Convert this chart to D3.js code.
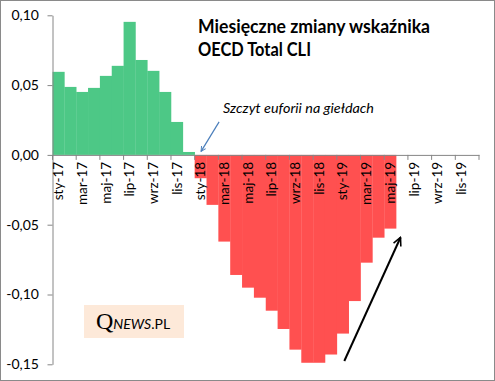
<!DOCTYPE html>
<html><head><meta charset="utf-8">
<script src="https://cdn.jsdelivr.net/npm/d3@7"></script>
<style>html,body{margin:0;padding:0;background:#fff;}svg{display:block;}</style>
</head><body>
<svg id="c" width="495" height="381"></svg>
<script>
// ---- data ----
const monthNames = ["sty","lut","mar","kwi","maj","cze","lip","sie","wrz","paź","lis","gru"];
const years = ["17","18","19"];
const categories = [];
years.forEach(yy => monthNames.forEach(m => categories.push(m + "-" + yy)));
const values2017 = [0.0595,0.0487,0.0451,0.0480,0.0566,0.0638,0.0953,0.0680,0.0602,0.0451,0.0236,0.0021];
const values2018 = [-0.0167,-0.0358,-0.0621,-0.0860,-0.0951,-0.1023,-0.1116,-0.1247,-0.1395,-0.1489,-0.1489,-0.1430];
const values2019 = [-0.1280,-0.1047,-0.0772,-0.0593,-0.0528,null,null,null,null,null,null,null];
const values = values2017.concat(values2018, values2019);
const tickLabels = categories.filter((c, i) => i % 2 === 0);
const yTicks = [-0.15,-0.10,-0.05,0.00,0.05,0.10];
const title = ["Miesięczne zmiany wskaźnika", "OECD Total CLI"];
const note = "Szczyt euforii na giełdach";

// ---- chart ----
const svg = d3.select("#c");
const font = "Lato, 'Open Sans', sans-serif";
const x = d3.scaleBand().domain(categories).range([52.5, 479]).padding(0);
const y = d3.scaleLinear().domain([-0.15, 0.10]).range([364.3, 15.3]);
const fmt = v => d3.format(".2f")(Math.abs(v)).replace(".", ",");
const fmtS = v => (v < -1e-9 ? "-" : "") + fmt(v);

svg.append("rect").attr("x",0.5).attr("y",0.5).attr("width",494).attr("height",380)
  .attr("fill","#fff").attr("stroke","#8a8a8a");

// bars
const data = categories.map((c,i)=>({c, v: values[i]})).filter(d => d.v !== null);
svg.append("g").selectAll("rect").data(data).join("rect")
  .attr("x", d => x(d.c))
  .attr("width", x.bandwidth() + 0.3)
  .attr("y", d => y(Math.max(0, d.v)))
  .attr("height", d => Math.abs(y(d.v) - y(0)))
  .attr("fill", d => d.v >= 0 ? "#4dc886" : "#ff5050");

// y axis
const ya = svg.append("g").attr("transform","translate(52.5,0)")
  .call(d3.axisLeft(y).tickValues(yTicks).tickSize(5).tickSizeOuter(0).tickFormat(fmtS));
ya.select(".domain").attr("stroke","#868686");
ya.selectAll(".tick line").attr("stroke","#868686");
ya.selectAll(".tick text").attr("font-family",font).attr("font-size",14).attr("fill","#000").attr("x",-13.5);

// x axis (line at zero, boundary ticks, rotated labels)
const xa = svg.append("g").attr("transform",`translate(0,${y(0)})`)
  .call(d3.axisBottom(x).tickValues(tickLabels).tickSize(0).tickSizeOuter(0));
xa.select(".domain").attr("stroke","#868686");
xa.selectAll(".tick text")
  .attr("font-family",font).attr("font-size",13.5).attr("fill","#000")
  .attr("transform","rotate(-90)").attr("text-anchor","end")
  .attr("x",-7).attr("y",0).attr("dy","0.35em");
const bounds = tickLabels.map(c => x(c)).concat([x.range()[1]]);
svg.append("g").selectAll("line").data(bounds).join("line")
  .attr("x1", d => d).attr("x2", d => d)
  .attr("y1", y(0)).attr("y2", y(0) + 5)
  .attr("stroke","#868686");

// title
const titleW = [232, 113];
svg.append("g").selectAll("text").data(title).join("text")
  .attr("x",198).attr("y",(d,i)=>32.5 + i*23.5)
  .attr("font-family",font).attr("font-weight","bold").attr("font-size",18)
  .attr("textLength",(d,i)=>titleW[i]).attr("lengthAdjust","spacingAndGlyphs")
  .attr("fill","#000").text(d=>d);

// annotation
svg.append("text").attr("x",223).attr("y",113)
  .attr("font-family",font).attr("font-style","italic").attr("font-size",13.5)
  .attr("textLength",151).attr("lengthAdjust","spacingAndGlyphs")
  .attr("fill","#000").text(note);

const defs = svg.append("defs");
function marker(id, color){
  defs.append("marker").attr("id",id).attr("viewBox","0 0 10 10").attr("refX",9).attr("refY",5)
    .attr("markerWidth",5).attr("markerHeight",5).attr("orient","auto-start-reverse")
    .append("path").attr("d","M1,1 L9,5 L1,9").attr("fill","none").attr("stroke",color).attr("stroke-width",1.6);
}
marker("mb","#4a7ebb"); marker("mk","#000");
const jan18 = x("sty-18") + x.bandwidth()/2;
svg.append("line").attr("x1",jan18+18.5).attr("y1",y(0)-33).attr("x2",jan18+0.5).attr("y2",y(0)-3.5)
  .attr("stroke","#4a7ebb").attr("stroke-width",1.2).attr("marker-end","url(#mb)");
svg.append("line").attr("x1",344.3).attr("y1",361).attr("x2",400.5).attr("y2",237.5)
  .attr("stroke","#000").attr("stroke-width",2).attr("marker-end","url(#mk)");

// logo
const logo = svg.append("g");
logo.append("rect").attr("x",84).attr("y",305).attr("width",100).attr("height",33).attr("fill","#fde9d9");
const lt = logo.append("text").attr("x",96).attr("y",328.5).attr("fill","#000");
lt.append("tspan").attr("font-family","'Liberation Serif', serif").attr("font-size",24).text("Q");
lt.append("tspan").attr("font-family",font).attr("font-style","italic").attr("font-size",14).text("NEWS");
lt.append("tspan").attr("font-family",font).attr("font-size",14).text(".PL");
</script>
</body></html>
